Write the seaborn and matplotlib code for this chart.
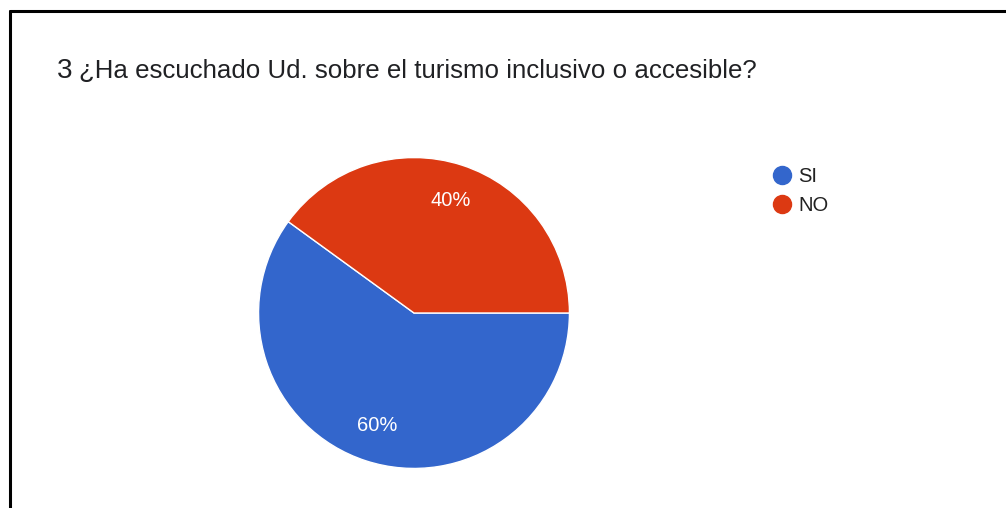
import matplotlib
matplotlib.use("Agg")
import matplotlib.pyplot as plt
import seaborn as sns
from matplotlib.lines import Line2D

categories = ["SI", "NO"]
values = [60, 40]
colors = ["#3366cc", "#dc3912"]
title_num = "3"
title_text = "¿Ha escuchado Ud. sobre el turismo inclusivo o accesible?"

sns.set_theme(style="white")
plt.rcParams['font.family'] = ['Liberation Sans', 'DejaVu Sans']

fig = plt.figure(figsize=(10.06, 5.08), dpi=100)
fig.patch.set_facecolor("white")

cx, cy, r = 414, 313, 157
W, H = 1006, 508
ax = fig.add_axes([(cx - r) / W, (H - cy - r) / H, 2 * r / W, 2 * r / H])
wedges, texts, autotexts = ax.pie(
    values, colors=colors, startangle=0, counterclock=False,
    autopct=lambda p: f"{p:.0f}%", pctdistance=0.76, radius=1,
    wedgeprops=dict(edgecolor="white", linewidth=1.0),
    textprops=dict(color="white", fontsize=14.5))
ax.set_xlim(-1.01, 1.01)
ax.set_ylim(-1.01, 1.01)
ax.set_aspect("equal")
ax.axis("off")

# Legend
handles = [Line2D([0], [0], marker="o", linestyle="", markersize=13,
                  markerfacecolor=c, markeredgecolor=c) for c in colors]
fig.legend(handles, categories, loc="upper left",
           bbox_to_anchor=(764 / W, 1 - 159 / H), frameon=False,
           fontsize=14.5, handletextpad=0.3, labelspacing=0.5,
           borderaxespad=0, handlelength=1.0, labelcolor="#222222")

# Title
fig.text(57 / W, 1 - 78 / H, title_num, fontsize=20, color="#202124",
         va="baseline", ha="left")
fig.text(79 / W, 1 - 78 / H, title_text, fontsize=18.6, color="#202124",
         va="baseline", ha="left")

# Border (left & top)
fig.add_artist(Line2D([10 / W, 10 / W], [0, 1 - 11 / H], color="black",
                      linewidth=2.2, transform=fig.transFigure))
fig.add_artist(Line2D([10 / W, 1], [1 - 11 / H, 1 - 11 / H], color="black",
                      linewidth=2.2, transform=fig.transFigure))

fig.savefig("out.png", dpi=100, facecolor="white")
